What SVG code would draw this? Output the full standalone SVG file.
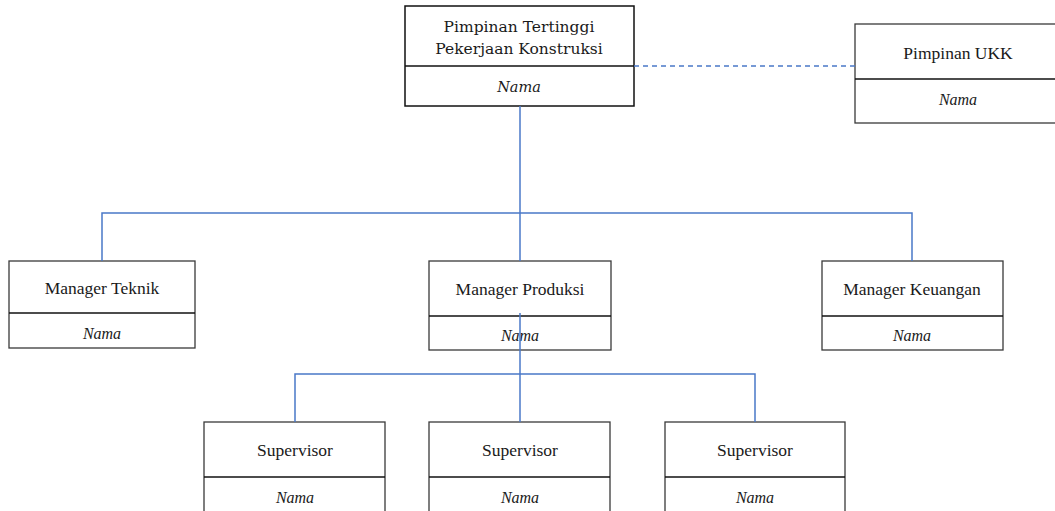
<svg xmlns="http://www.w3.org/2000/svg" width="1055" height="511" viewBox="0 0 1055 511">
  <style>
    .box { fill: #ffffff; stroke: #3a3a3a; stroke-width: 1.3; }
    .div { stroke: #111111; stroke-width: 1.3; }
    .title { font-family: "Liberation Serif", "Times New Roman", serif; font-size: 17.5px; fill: #1a1a1a; text-anchor: middle; }
    .name { font-family: "Liberation Serif", "Times New Roman", serif; font-size: 16px; font-style: italic; fill: #1a1a1a; text-anchor: middle; }
    .top-title { font-family: "DejaVu Serif", serif; font-size: 15.5px; fill: #1a1a1a; text-anchor: middle; }
    .top-name { font-family: "DejaVu Serif", serif; font-size: 14.5px; font-style: italic; fill: #1a1a1a; text-anchor: middle; }
    .link { fill: none; stroke: #4a78c8; stroke-width: 1.5; }
    .dashed { fill: none; stroke: #4a78c8; stroke-width: 1.3; stroke-dasharray: 5 4; }
  </style>
  <rect width="1055" height="511" fill="#ffffff"/>

  <!-- top: head of construction work -->
  <g id="node-pimpinan">
    <rect class="box" x="405" y="6" width="229" height="100" style="stroke:#111;stroke-width:1.5"/>
    <line class="div" x1="405" y1="66" x2="634" y2="66"/>
    <text class="top-title" x="519" y="32">Pimpinan Tertinggi</text>
    <text class="top-title" x="519" y="54">Pekerjaan Konstruksi</text>
    <text class="top-name" x="519" y="92">Nama</text>
  </g>

  <g id="node-ukk">
    <rect class="box" x="855" y="24" width="210" height="99"/>
    <line class="div" x1="855" y1="79" x2="1065" y2="79"/>
    <text class="title" x="958" y="59">Pimpinan UKK</text>
    <text class="name" x="958" y="105">Nama</text>
  </g>

  <g id="node-teknik">
    <rect class="box" x="9" y="261" width="186" height="87"/>
    <line class="div" x1="9" y1="313" x2="195" y2="313"/>
    <text class="title" x="102" y="294">Manager Teknik</text>
    <text class="name" x="102" y="339">Nama</text>
  </g>

  <g id="node-produksi">
    <rect class="box" x="429" y="261" width="182" height="89"/>
    <line class="div" x1="429" y1="316" x2="611" y2="316"/>
    <text class="title" x="520" y="295">Manager Produksi</text>
    <text class="name" x="520" y="341">Nama</text>
  </g>

  <g id="node-keuangan">
    <rect class="box" x="822" y="261" width="181" height="89"/>
    <line class="div" x1="822" y1="316" x2="1003" y2="316"/>
    <text class="title" x="912" y="295">Manager Keuangan</text>
    <text class="name" x="912" y="341">Nama</text>
  </g>

  <g id="node-supervisor-1">
    <rect class="box" x="204" y="422" width="181" height="100"/>
    <line class="div" x1="204" y1="477" x2="385" y2="477"/>
    <text class="title" x="295" y="456">Supervisor</text>
    <text class="name" x="295" y="503">Nama</text>
  </g>

  <g id="node-supervisor-2">
    <rect class="box" x="429" y="422" width="181" height="100"/>
    <line class="div" x1="429" y1="477" x2="610" y2="477"/>
    <text class="title" x="520" y="456">Supervisor</text>
    <text class="name" x="520" y="503">Nama</text>
  </g>

  <g id="node-supervisor-3">
    <rect class="box" x="665" y="422" width="180" height="100"/>
    <line class="div" x1="665" y1="477" x2="845" y2="477"/>
    <text class="title" x="755" y="456">Supervisor</text>
    <text class="name" x="755" y="503">Nama</text>
  </g>

  <!-- connectors, drawn last so the production line runs over its box -->
  <g id="connectors">
    <line class="dashed" x1="634" y1="66" x2="855" y2="66"/>
    <path class="link" d="M520 106 V261"/>
    <path class="link" d="M102 261 V213 H912 V261"/>
    <path class="link" d="M520 313 V422"/>
    <path class="link" d="M295 422 V374 H755 V422"/>
  </g>
</svg>
